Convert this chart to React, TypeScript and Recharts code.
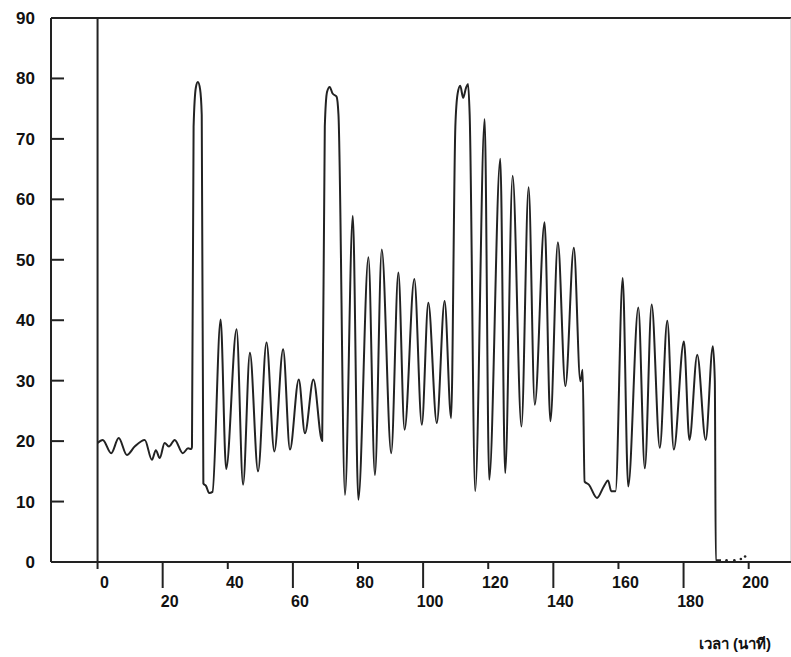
import React from 'react';
import { ComposedChart, Line, Scatter, XAxis, YAxis, ReferenceLine } from 'recharts';

const TIME = [
  0, 1.6, 4.2, 6.5, 9.0, 11.4, 14.5, 16.7, 17.9, 19.1, 20.6, 21.9, 23.7, 26.2, 27.8, 28.8,
  29.0, 29.5, 30.2, 30.8, 31.5, 32.0, 32.5, 33.3, 34.3, 35.3, 37.8, 39.5,
  42.7, 44.7, 46.8, 49.3, 51.9, 54.3, 57.0, 59.1, 61.8, 63.7, 66.3, 69.0,
  69.8, 70.5, 71.3, 72.2, 73.4, 74.0, 76.0, 78.4, 80.1, 83.2, 85.2, 87.3, 90.2, 92.4, 94.3,
  97.3, 99.6, 101.6, 104.2, 106.6, 108.6,
  109.9, 110.6, 111.4, 112.3, 113.2, 113.8, 114.3, 116.0, 118.9, 120.3, 123.7, 125.2, 127.5,
  130.2, 132.4, 134.3, 137.3, 139.1, 141.4, 143.7, 146.3, 148.3, 149.0, 149.6, 150.9, 153.4,
  155.5, 156.8, 157.8, 159.1, 161.3, 163.0, 166.1, 168.1, 170.2, 172.7, 175.0, 177.0, 180.1,
  181.8, 184.2, 186.8, 189.0, 189.6, 189.9, 191.5,
];

const VALUE = [
  19.7, 20.2, 18.0, 20.5, 17.7, 19.1, 20.2, 16.9, 18.5, 17.2, 19.7, 19.1, 20.2, 18.0, 18.8, 18.7,
  19.0, 72.0, 78.5, 79.4, 78.2, 74.0, 13.0, 12.6, 11.4, 11.6, 40.1, 15.4,
  38.5, 12.8, 34.6, 15.0, 36.3, 18.3, 35.2, 18.6, 30.2, 21.3, 30.2, 20.0,
  72.0, 77.8, 78.6, 77.5, 77.0, 74.0, 11.1, 57.3, 10.3, 50.4, 14.4, 51.7, 18.0, 47.9, 21.9,
  46.8, 22.7, 42.9, 23.0, 43.2, 23.8,
  72.0, 77.5, 78.8, 76.8, 78.5, 79.1, 74.0, 11.7, 73.3, 13.6, 66.7, 14.7, 63.9,
  22.4, 62.0, 26.0, 56.2, 23.3, 52.9, 29.1, 52.0, 29.9, 31.8, 13.3, 12.8, 10.6,
  12.5, 13.5, 11.7, 11.7, 47.0, 12.5, 42.1, 15.5, 42.6, 18.9, 39.9, 18.6, 36.5,
  20.2, 34.3, 20.2, 35.7, 30.0, 0.3, 0.3,
];

const TAIL_TIME = [193.2, 195.6, 197.6, 198.9];
const TAIL_VALUE = [0.3, 0.3, 0.5, 0.9];

const X_TICKS = [0, 20, 40, 60, 80, 100, 120, 140, 160, 180, 200];
const Y_TICKS = [0, 10, 20, 30, 40, 50, 60, 70, 80, 90];
const X_TITLE = 'เวลา (นาที)';

const data = TIME.map((t, i) => ({ t, v: VALUE[i] }));
const tailData = TAIL_TIME.map((t, i) => ({ t, v: TAIL_VALUE[i] }));

const INK = '#222';
const FONT = '"Liberation Sans", Arial, sans-serif';

const YTick = (props: any) => {
  const { x, y, payload } = props;
  return (
    <g>
      {payload.value !== 0 && payload.value !== 90 && (
        <line x1={x} y1={y} x2={x + 13} y2={y} stroke={INK} strokeWidth={2} />
      )}
      <text x={x - 16} y={y + 6} textAnchor="end" fontFamily={FONT} fontWeight="bold" fontSize={17} fill="#111">
        {payload.value}
      </text>
    </g>
  );
};

const XTick = (props: any) => {
  const { x, y, payload } = props;
  const long = (payload.value / 20) % 2 === 1;
  return (
    <g>
      <line x1={x} y1={y} x2={x} y2={y + (long ? 26 : 7)} stroke={INK} strokeWidth={2} />
      <text x={x + 7} y={y + (long ? 45 : 26)} textAnchor="middle" fontFamily={FONT} fontWeight="bold" fontSize={16} fill="#111">
        {payload.value}
      </text>
    </g>
  );
};

const XTitle = (props: any) => {
  const vb = props.viewBox || {};
  return (
    <text x={vb.x + vb.width - 20} y={vb.y + 87} textAnchor="end" fontFamily={FONT} fontWeight="bold" fontSize={15} fill="#111">
      {X_TITLE}
    </text>
  );
};

export default function App() {
  return (
    <div style={{ position: 'absolute', left: 0, top: 0, width: 791, height: 657, background: '#fff' }}>
      <ComposedChart width={791} height={657} data={data} margin={{ top: 18, right: 0, bottom: 0, left: 0 }}>
        <XAxis
          dataKey="t"
          type="number"
          domain={[-14.3, 213]}
          allowDataOverflow
          ticks={X_TICKS}
          interval={0}
          height={95}
          tickSize={0}
          tickMargin={0}
          tickLine={false}
          tick={<XTick />}
          axisLine={{ stroke: INK, strokeWidth: 2 }}
          label={<XTitle />}
        />
        <YAxis
          type="number"
          domain={[0, 90]}
          ticks={Y_TICKS}
          interval={0}
          width={51}
          tickSize={0}
          tickMargin={0}
          tickLine={false}
          tick={<YTick />}
          axisLine={{ stroke: INK, strokeWidth: 2 }}
        />
        <ReferenceLine y={90} stroke={INK} strokeWidth={2} />
        <ReferenceLine x={213} stroke="#bbb" strokeWidth={1} />
        <ReferenceLine x={0} stroke={INK} strokeWidth={2} />
        <Line
          type="monotone"
          dataKey="v"
          stroke={INK}
          strokeWidth={2}
          strokeLinejoin="round"
          dot={false}
          isAnimationActive={false}
        />
        <Scatter
          data={tailData}
          dataKey="v"
          fill={INK}
          shape={(p: any) => <circle cx={p.cx} cy={p.cy} r={1.3} fill={INK} />}
          isAnimationActive={false}
        />
      </ComposedChart>
    </div>
  );
}
